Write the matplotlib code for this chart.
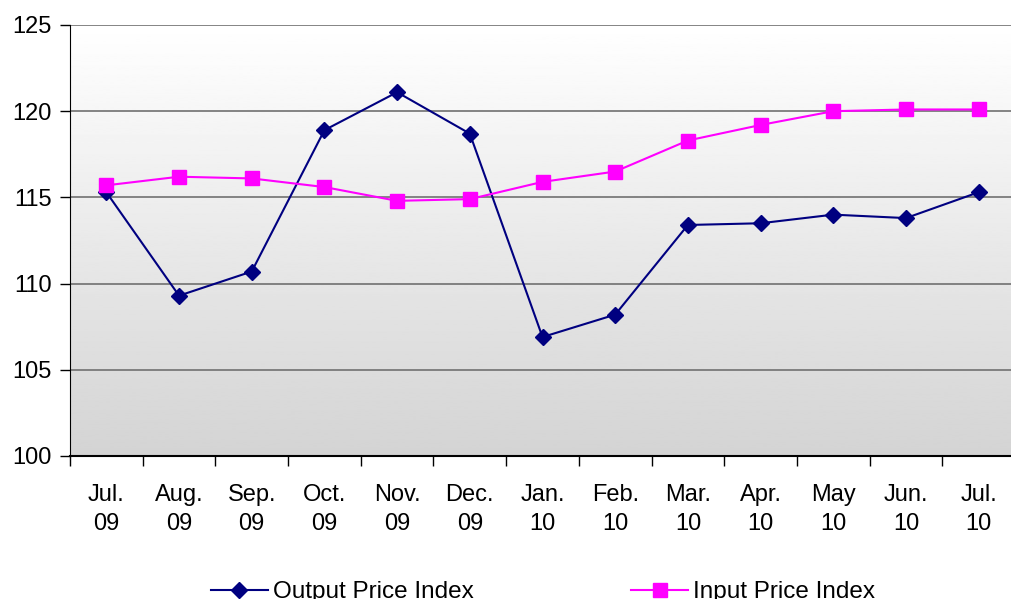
import matplotlib
matplotlib.use("Agg")
import numpy as np
from matplotlib import pyplot

months = ["Jul.\n09", "Aug.\n09", "Sep.\n09", "Oct.\n09", "Nov.\n09", "Dec.\n09",
          "Jan.\n10", "Feb.\n10", "Mar.\n10", "Apr.\n10", "May\n10", "Jun.\n10", "Jul.\n10"]
output_index = [115.3, 109.3, 110.7, 118.9, 121.1, 118.7, 106.9, 108.2, 113.4, 113.5, 114.0, 113.8, 115.3]
input_index = [115.7, 116.2, 116.1, 115.6, 114.8, 114.9, 115.9, 116.5, 118.3, 119.2, 120.0, 120.1, 120.1]
y_ticks = [100, 105, 110, 115, 120, 125]

pyplot.rcParams["font.family"] = ["Liberation Sans", "DejaVu Sans"]

fig = pyplot.figure(figsize=(10.11, 5.99), dpi=100)
W, H = 1011, 599
ax = fig.add_axes([70 / W, 1 - 456 / H, 945 / W, (456 - 25) / H])

x = np.arange(len(months))
ax.set_xlim(-0.5, len(months) - 0.5)
ax.set_ylim(100, 125)

# background gradient: white at top, light grey at bottom
grad = np.linspace(1.0, 0.83, 256).reshape(-1, 1)
ax.imshow(grad, cmap="gray", vmin=0, vmax=1, aspect="auto", origin="upper",
          extent=(-0.5, len(months) - 0.5, 100, 125), zorder=0)

for yv in y_ticks[1:]:
    ax.axhline(yv, color="#707070", lw=1.2, zorder=1)

ax.plot(x, output_index, color="#000080", lw=1.5, marker="D", markersize=8,
        label="Output Price Index", zorder=3)
ax.plot(x, input_index, color="#FF00FF", lw=1.5, marker="s", markersize=10,
        label="Input Price Index", zorder=3)

ax.set_yticks(y_ticks)
ax.set_xticks(x)
ax.set_xticklabels(months, linespacing=1.45)
ax.set_xticks(np.arange(-0.5, len(months)), minor=True)
ax.tick_params(axis="x", which="major", length=0, pad=20, labelsize=17)
ax.tick_params(axis="x", which="minor", length=7, width=1, direction="out", color="black")
ax.tick_params(axis="y", length=7, width=1, direction="out", labelsize=17, pad=6)

for s in ["top", "right"]:
    ax.spines[s].set_visible(False)
ax.spines["left"].set_color("black")
ax.spines["bottom"].set_color("black")
ax.spines["bottom"].set_linewidth(1.5)

fig.legend(loc="center", bbox_to_anchor=(0.537, 1 - 592 / H), ncol=2, frameon=False,
           fontsize=17.5, handlelength=2.35, handletextpad=0.2, columnspacing=6.5)

fig.savefig("out.png", dpi=100)
